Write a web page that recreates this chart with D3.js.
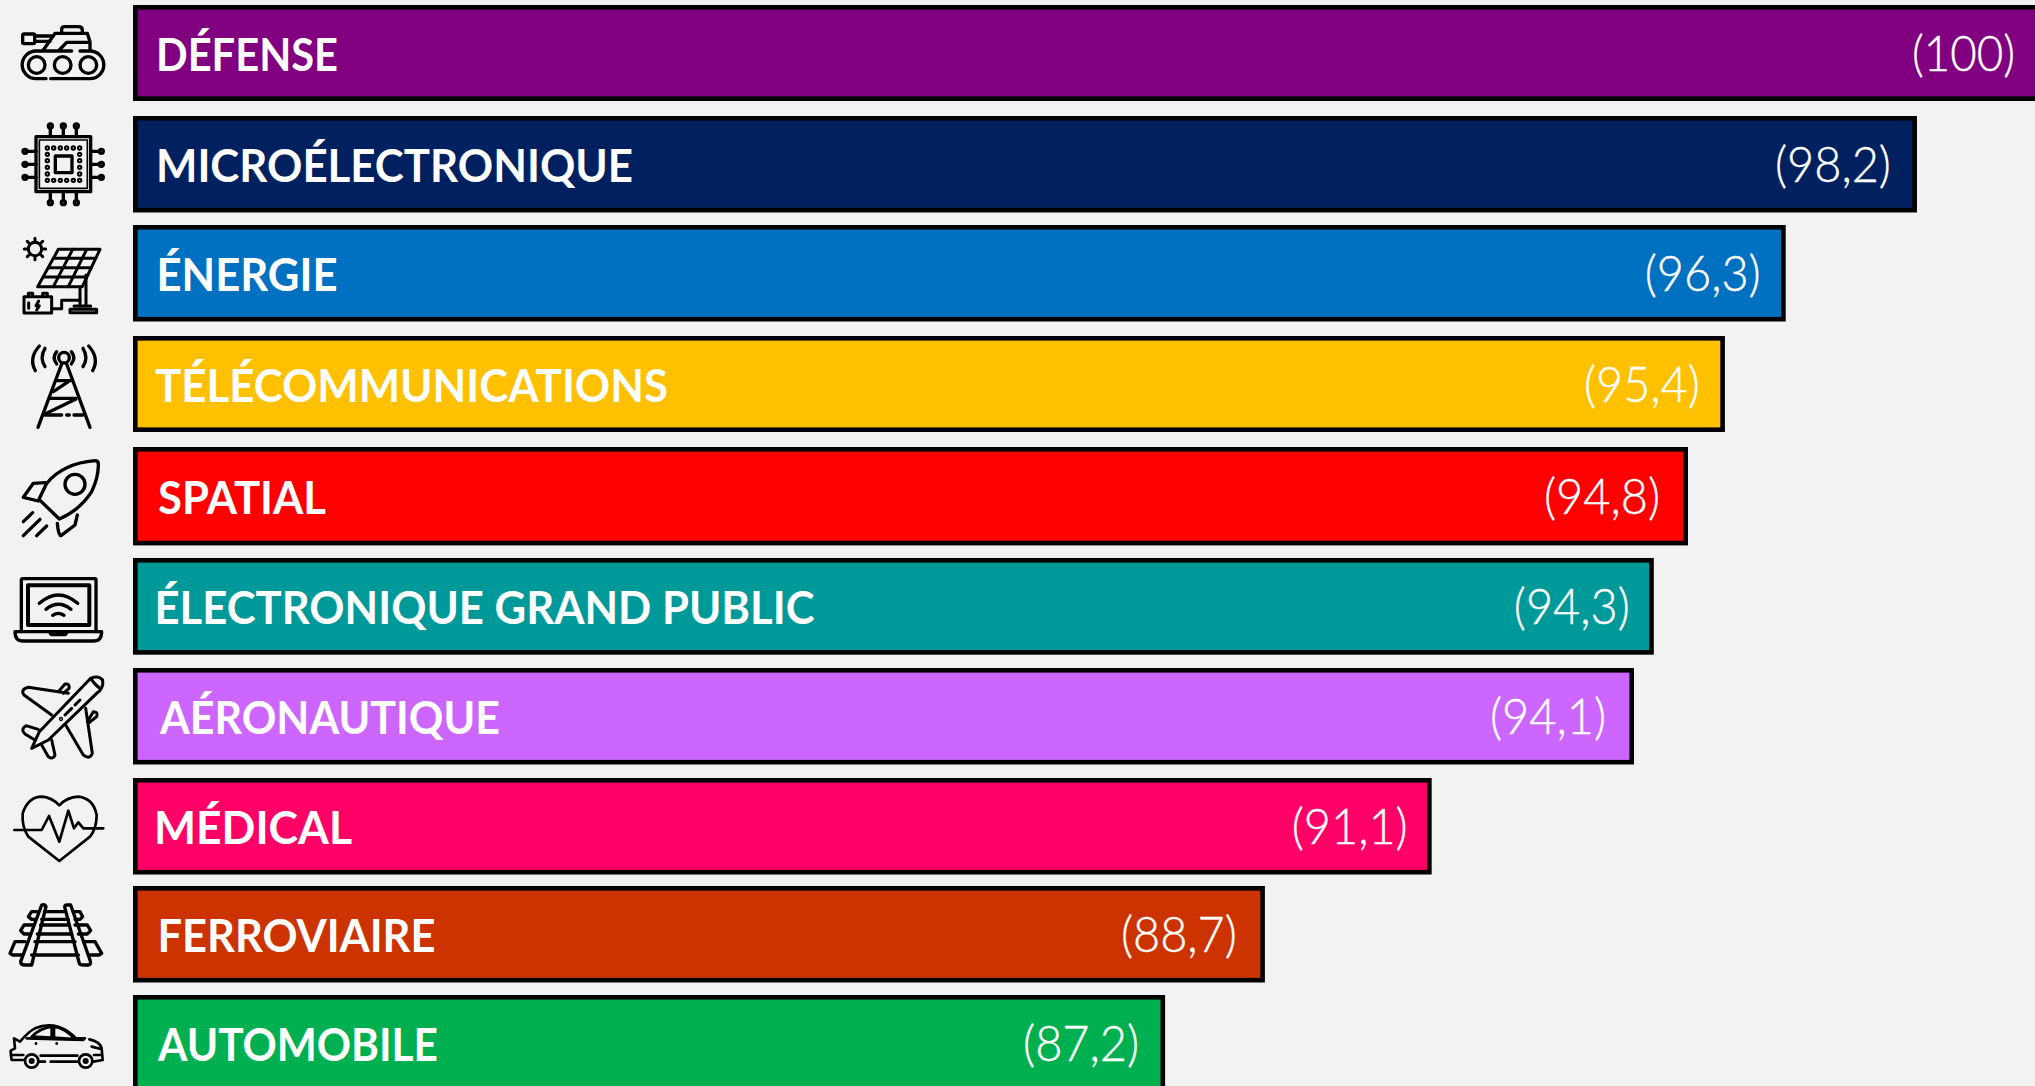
<!DOCTYPE html>
<html lang="fr">
<head>
<meta charset="utf-8">
<title>Secteurs</title>
<script src="https://cdn.jsdelivr.net/npm/d3@7"></script>
<style>
    html, body { margin: 0; padding: 0; background: #f2f2f2; overflow: hidden; }
    svg { display: block; }
    .name { font-family: Lato, "Open Sans", sans-serif; font-weight: 700; font-size: 46px; fill: #fff; }
    .value { font-family: Lato, "Open Sans", sans-serif; font-weight: 300; font-size: 49px; fill: #fff; stroke: #fff; stroke-width: 0.4px; }
    .icon * { fill: none; stroke: #000; stroke-linecap: round; stroke-linejoin: round; }
</style>
</head>
<body>
<svg id="chart" width="2035" height="1086"></svg>
<script>
// data (values keep a second decimal to follow the bar ends)
const categories = ['DÉFENSE', 'MICROÉLECTRONIQUE', 'ÉNERGIE', 'TÉLÉCOMMUNICATIONS', 'SPATIAL',
    'ÉLECTRONIQUE GRAND PUBLIC', 'AÉRONAUTIQUE', 'MÉDICAL', 'FERROVIAIRE', 'AUTOMOBILE']
const values = [100, 98.2, 96.28, 95.39, 94.85, 94.35, 94.06, 91.1, 88.66, 87.2]
const valueLabels = ['(100)', '(98,2)', '(96,3)', '(95,4)', '(94,8)', '(94,3)', '(94,1)', '(91,1)', '(88,7)', '(87,2)']
const colors = ['#800080', '#002060', '#0070c0', '#ffc000', '#ff0000', '#009999', '#cc66ff', '#ff0066', '#cc3300', '#00b050']

// layout, the rows are hand placed in the original
const rowTops = [5, 116, 225, 336, 447, 558, 668, 778, 886, 995]
const rowHeights = [96, 96.5, 96.5, 96, 98.4, 96.7, 96.5, 96.5, 96.5, 96.5]
const baselines = [66, 65.5, 66, 66, 67, 66, 66, 66, 66, 66]
const border = 4.6
const nameLeft = [156, 156, 156.5, 155, 158, 154.5, 160, 154, 157.5, 158]
const nameWidth = [182, 477, 181, 513, 168, 660, 340, 198, 278, 280]
const valueInset = [25, 26, 25, 25, 28, 24, 28, 24, 28, 26]

const xScale = d3.scaleLinear().domain([72.1, 100]).range([133, 2040])
const yScale = d3.scaleOrdinal().domain(categories).range(rowTops)

const svg = d3.select('#chart')

const rows = svg.selectAll('g.row')
    .data(categories)
    .join('g')
    .attr('class', 'row')

rows.append('rect')
    .attr('x', xScale.range()[0] + border / 2)
    .attr('y', d => yScale(d) + border / 2)
    .attr('width', (d, i) => xScale(values[i]) - xScale.range()[0] - border)
    .attr('height', (d, i) => rowHeights[i] - border)
    .attr('fill', (d, i) => colors[i])
    .attr('stroke', '#000')
    .attr('stroke-width', border)

rows.append('text')
    .attr('class', 'name')
    .attr('x', (d, i) => nameLeft[i])
    .attr('y', (d, i) => yScale(d) + baselines[i])
    .attr('textLength', (d, i) => nameWidth[i])
    .attr('lengthAdjust', 'spacingAndGlyphs')
    .text(d => d)

rows.append('text')
    .attr('class', 'value')
    .attr('x', (d, i) => xScale(values[i]) - valueInset[i] - (i == 0 ? 103 : 116))
    .attr('y', (d, i) => yScale(d) + baselines[i])
    .attr('textLength', (d, i) => i == 0 ? 103 : 116)
    .attr('lengthAdjust', 'spacingAndGlyphs')
    .text((d, i) => valueLabels[i])

// icons, traced in the 3x coordinates of the crops
function icon(offsetY, stroke) {
    return svg.append('g')
        .attr('class', 'icon')
        .attr('transform', `translate(0,${offsetY}) scale(${1 / 3})`)
        .style('stroke-width', stroke)
}
function paths(g, list) {
    list.forEach(d => g.append('path').attr('d', d))
}
function circles(g, list) {
    list.forEach(c => g.append('circle').attr('cx', c[0]).attr('cy', c[1]).attr('r', c[2]))
}

// tank
let g = icon(0, 10)
paths(g, ['M152 236 H270 A41 41 0 0 0 270 153 H240 M215 153 H108 A41 41 0 0 0 108 236 H138',
    'M130 150 L165 100 H262 L270 125 V150 M178 150 L200 127 H268',
    'M185 97 V88 Q185 80 195 80 H235 Q247 80 247 90 V97',
    'M72 102 H100 Q104 102 104 106 V126 Q104 131 100 131 H72 Q68 131 68 126 V106 Q68 102 72 102 Z',
    'M105 108 H160 M105 124 H150'])
circles(g, [[110, 195, 25], [188, 195, 25], [265, 195, 25]])

// chip
g = icon(0, 10)
paths(g, ['M108 410 H272 V575 H108 Z', 'M166 468 H216 V518 H166 Z'])
g.append('path').attr('d', 'M118 420 H262 V565 H118 Z').style('stroke-width', 5)
const dotX = [142, 161, 181, 200, 220, 239]
const dotY = [463, 482, 502, 522]
dotX.forEach(x => circles(g, [[x, 444, 3], [x, 541, 3]]))
dotY.forEach(y => circles(g, [[142, y, 3], [239, y, 3]]))
;[151, 190, 229].forEach(x => {
    paths(g, [`M${x} 410 V385`, `M${x} 575 V600`])
    circles(g, [[x, 378, 6], [x, 608, 6]])
})
;[454, 493, 532].forEach(y => {
    paths(g, [`M108 ${y} H82`, `M272 ${y} H297`])
    circles(g, [[75, y, 6], [304, y, 6]])
})

// solar panel
g = icon(220, 9)
circles(g, [[105, 87, 20]])
paths(g, ['M105 55 V62 M105 112 V119 M73 87 H80 M130 87 H137 M82 64 L87 69 M123 105 L128 110 M128 64 L123 69 M87 105 L82 110',
    'M175 88 H300 L247 200 H113 Z',
    'M160 115 H287 M145 143 H274 M130 171 H260',
    'M218 88 L160 200 M260 88 L205 200',
    'M240 200 V255 M258 165 V255 M222 258 H272 M210 268 H290 V278 H210 Z',
    'M72 230 H155 V279 H72 Z M85 230 V220 H98 V230 M128 230 V220 H142 V230',
    'M155 266 H185 V241 H240 M86 248 V265 M116 243 L108 257 H118 L110 270'])

// tower
g = icon(220, 10)
circles(g, [[192, 413, 16]])
paths(g, ['M114 622 L185 432 M270 622 L200 432',
    'M172 482 H212 M160 515 L205 485 M150 535 H228 M135 582 L228 537',
    'M135 585 H185 M200 585 H208 M222 585 H248',
    'M170 395 Q155 413 170 432 M214 395 Q229 413 214 432',
    'M135 385 Q118 413 135 440 M249 385 Q266 413 249 440',
    'M118 378 Q85 415 106 452 M266 378 Q299 415 278 452'])

// rocket
g = icon(440, 10)
circles(g, [[225, 133, 30]])
paths(g, ['M285 62 Q190 70 140 130 L117 178 L178 237 Q240 210 275 155 Q296 110 295 72 Q295 62 285 62 Z',
    'M137 128 L100 130 L70 172 L115 183 M232 225 L225 255 L183 287 Q175 287 172 250',
    'M70 245 L98 218 M70 287 L120 238 M110 287 L140 258'])

// laptop
g = icon(440, 10)
paths(g, ['M64 575 V420 Q64 416 68 416 H284 Q288 416 288 420 V575', 'M45 575 H305 Q305 603 280 603 H70 Q45 603 45 575 Z',
    'M150 575 Q150 584 160 584 H190 Q200 584 200 575',
    'M118 490 Q175 440 233 490 M138 508 Q175 478 213 508 M158 526 Q175 514 192 526'])
g.append('path').attr('d', 'M84 436 H268 V555 H84 Z').style('stroke-width', 12)

// plane
g = icon(660, 9)
circles(g, [[183, 177, 2]])
paths(g, ['M272 55 Q295 45 308 60 Q312 85 290 100 L145 240 L95 265 L118 215 Z',
    'M272 55 Q285 75 300 85 M195 165 L215 145 M225 135 L240 120',
    'M155 165 L72 105 Q60 88 85 82 L205 100 M175 95 L195 72 Q210 70 207 85 L190 100',
    'M197 195 L250 285 Q270 300 277 280 L257 145 M262 185 L280 155 Q295 155 290 170 L265 190',
    'M105 240 L75 222 Q60 208 78 197 L115 208 M125 255 L145 290 Q160 300 165 285 L155 240'])

// heart
g = icon(660, 8)
paths(g, ['M178 603 L85 530 Q65 500 68 460 Q85 410 125 410 Q155 412 178 436 Q200 412 235 410 Q280 415 290 465 Q290 505 270 530 Z',
    'M43 510 H125 L147 468 L178 545 L205 452 L222 505 L235 487 L250 505 H310'])

// rails
g = icon(860, 10)
paths(g, ['M125 135 L62 305 Q62 315 75 315 H95 L138 140 Q135 132 125 135 Z',
    'M200 135 Q192 135 195 145 L238 310 Q240 315 250 315 H265 Q275 315 270 300 L212 135 Z',
    'M110 155 H95 L85 170 L95 178 H105 M133 155 H195 M125 178 H205 M225 178 H240 L248 170 L240 155 H220',
    'M100 195 H72 L62 212 L72 222 H90 M122 195 H205 M112 222 H215 M235 222 H262 L272 212 L262 195 H225',
    'M75 245 H45 L30 280 L38 285 H65 M105 245 H225 M95 285 H235 M255 245 H285 L305 280 L297 285 H270'])

// car
g = icon(860, 8)
circles(g, [[95, 603, 20], [257, 603, 20], [95, 603, 5], [257, 603, 5]])
paths(g, ['M70 600 H35 Q32 585 32 572 L45 565 L42 535 L60 545 Q85 515 105 505 Q140 490 175 500 Q205 510 228 535 H255',
    'M268 538 Q300 545 305 565 L308 600 L280 605 M118 605 H135 M152 605 H235',
    'M95 530 Q120 505 155 500 V533 Z M162 500 Q195 505 225 537 L162 533 Z M80 535 L250 540',
    'M35 585 H70 M122 587 H232 M282 585 H305 M275 560 L303 567',
    'M108 550 V551 M170 550 V551'])
</script>
</body>
</html>
